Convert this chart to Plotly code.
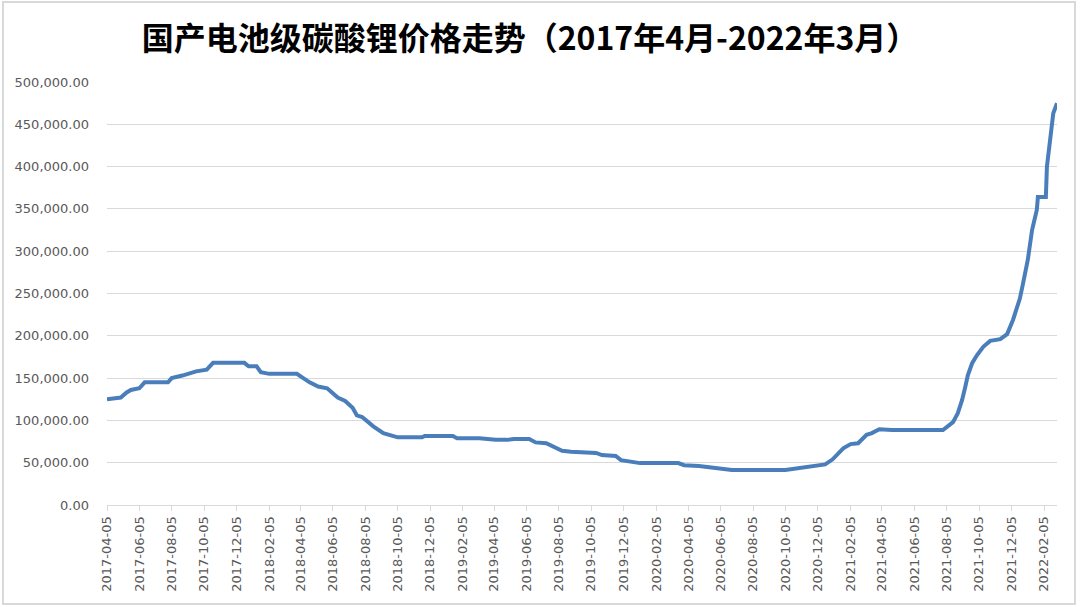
import plotly.graph_objects as go
import pandas as pd

dates = ["2017-04-05","2017-04-20","2017-05-01","2017-05-12","2017-05-20","2017-06-05","2017-06-15",
         "2017-07-29","2017-08-05","2017-08-25","2017-09-10","2017-09-20","2017-10-10","2017-10-22",
         "2017-12-20","2017-12-28","2018-01-12","2018-01-20","2018-02-05","2018-03-29","2018-04-10",
         "2018-04-22","2018-05-08","2018-05-25","2018-06-14","2018-06-28","2018-07-12","2018-07-20",
         "2018-07-30","2018-08-20","2018-09-08","2018-10-05","2018-11-20","2018-11-25","2019-01-17",
         "2019-01-25","2019-03-08","2019-04-08","2019-04-30","2019-05-12","2019-06-10","2019-06-22",
         "2019-07-12","2019-08-11","2019-08-28","2019-10-14","2019-10-25","2019-11-20","2019-11-30",
         "2020-01-05","2020-03-17","2020-03-28","2020-04-25","2020-05-30","2020-06-26","2020-10-05",
         "2020-11-01","2020-12-19","2021-01-02","2021-01-22","2021-02-05","2021-02-19","2021-03-07",
         "2021-03-17","2021-03-31","2021-04-24","2021-07-29","2021-08-17","2021-08-26","2021-09-03",
         "2021-09-09","2021-09-14","2021-09-22","2021-10-01","2021-10-13","2021-10-26","2021-11-14",
         "2021-11-27","2021-12-08","2021-12-21","2021-12-27","2022-01-05","2022-01-13","2022-01-22",
         "2022-01-24","2022-02-08","2022-02-10","2022-02-16","2022-02-22","2022-03-01"]
prices = [125000,126000,127000,133000,136000,138000,145000,
          145000,150000,153000,156000,158000,160000,168000,
          168000,164000,164000,157000,155000,155000,150000,
          145000,140000,138000,127000,123000,115000,106000,
          104000,93000,85000,80000,80000,81500,81500,
          79000,79000,77000,77000,78000,78000,74000,
          73000,64000,63000,61500,59000,58000,53000,
          49500,49500,47000,46000,43500,41500,41500,
          43500,48000,54000,67000,72000,73000,83000,
          85000,89500,88600,88600,98000,108500,124000,
          139500,153600,167600,177000,187000,194000,196000,
          202000,218700,244000,262000,290000,325000,349000,
          364000,364000,400000,431000,463000,475000]

tick_vals = pd.date_range("2017-04-01", "2022-02-01", freq="2MS") + pd.Timedelta(days=4)
tick_text = [d.strftime("%Y-%m-%d") for d in tick_vals]
y_ticks = list(range(0, 500001, 50000))

fig = go.Figure()
fig.add_trace(go.Scatter(x=dates, y=prices, mode="lines",
                         line=dict(color="#4a7ebb", width=4), hoverinfo="x+y"))

L, R, T, B = 107, 1057, 82, 505
W, H = 1080, 607
pw, ph = R - L, B - T

fig.update_layout(
    width=W, height=H,
    margin=dict(l=L, r=W - R, t=T, b=H - B, autoexpand=False),
    paper_bgcolor="white", plot_bgcolor="white",
    showlegend=False,
    title=dict(text="<b>国产电池级碳酸锂价格走势（2017年4月-2022年3月）</b>",
               x=530 / W, xanchor="center", y=1 - 39 / H, yanchor="middle",
               font=dict(family="Noto Sans CJK SC", size=32, color="#000000")),
    xaxis=dict(type="date", range=["2017-04-05", "2022-03-01"],
               tickmode="array", tickvals=list(tick_vals), ticktext=tick_text,
               tickangle=-90, showgrid=False, showline=True, linecolor="#d9d9d9", linewidth=1,
               ticks="outside", ticklen=5, tickcolor="#d9d9d9",
               tickfont=dict(family="DejaVu Sans", size=13, color="#595959")),
    yaxis=dict(range=[0, 500000], tickmode="array", tickvals=y_ticks,
               tickformat=",.2f", showgrid=True, gridcolor="#d9d9d9", gridwidth=1,
               zeroline=False, showline=False, ticks="", ticklabelstandoff=17,
               tickfont=dict(family="DejaVu Sans", size=13, color="#595959")),
    shapes=[dict(type="rect", xref="paper", yref="paper",
                 x0=(3 - L) / pw, x1=(1075 - L) / pw,
                 y0=(B - 604) / ph, y1=(B - 2) / ph,
                 line=dict(color="#d9d9d9", width=2), fillcolor="rgba(0,0,0,0)", layer="below")],
)

fig.write_html("out.html", config={"displayModeBar": False},
               post_script="document.body.style.margin='0px';")
